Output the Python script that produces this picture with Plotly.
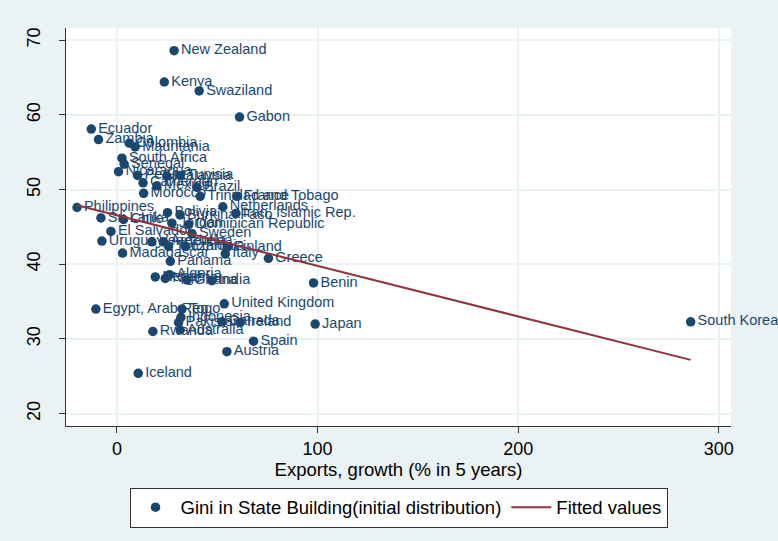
import plotly.graph_objects as go

# Gini coefficient (initial distribution) against 5-year export growth
countries = [
    "New Zealand", "Kenya", "Swaziland", "Gabon", "Ecuador", "Zambia",
    "Colombia", "Mauritania", "South Africa", "Senegal", "Nicaragua", "Peru",
    "Malaysia", "Tunisia", "Cameroon", "Mexico", "Morocco", "Brazil",
    "Trinidad and Tobago", "France", "Netherlands", "Iran, Islamic Rep.",
    "Philippines", "Sri Lanka", "Chile", "Bolivia", "Burkina Faso", "Jordan",
    "Dominican Republic", "Sweden", "El Salvador", "Uruguay", "Venezuela",
    "Argentina", "Tanzania", "Ethiopia", "Finland", "Italy", "Madagascar",
    "Greece", "Panama", "Nepal", "Nigeria", "Algeria", "Ghana", "India",
    "Benin", "Egypt, Arab Rep.", "United Kingdom", "Togo", "Indonesia",
    "Pakistan", "Australia", "Canada", "Ireland", "Rwanda", "Japan",
    "South Korea", "Spain", "Austria", "Iceland",
]
export_growth = [
    28.5, 23.6, 41.0, 61.1, -12.8, -9.2,
    6.1, 9.1, 2.5, 3.6, 0.8, 10.3,
    24.9, 31.5, 13.0, 19.9, 13.3, 39.9,
    41.5, 59.8, 52.8, 59.3,
    -19.9, -8.0, 3.3, 25.2, 31.5, 27.4,
    35.7, 37.4, -3.0, -7.5, 17.4,
    23.2, 25.7, 34.0, 55.0, 54.0, 2.8,
    75.5, 26.6, 19.1, 24.1, 26.2, 34.9, 47.3,
    98.0, -10.5, 53.5, 32.4, 31.9,
    30.7, 31.5, 52.3, 61.4, 17.9, 98.8,
    286.0, 68.1, 54.8, 10.6,
]
gini = [
    68.6, 64.4, 63.2, 59.7, 58.1, 56.7,
    56.2, 55.7, 54.2, 53.4, 52.4, 51.9,
    51.8, 51.9, 50.9, 50.5, 49.5, 50.3,
    49.1, 49.1, 47.7, 46.8,
    47.6, 46.2, 46.0, 46.9, 46.6, 45.5,
    45.3, 44.1, 44.4, 43.1, 43.0,
    43.0, 42.4, 42.4, 42.3, 41.4, 41.5,
    40.8, 40.4, 38.3, 38.1, 38.6, 37.9, 37.8,
    37.5, 34.0, 34.7, 34.0, 32.9,
    32.2, 31.2, 32.3, 32.2, 31.0, 32.0,
    32.3, 29.7, 28.3, 25.4,
]

# Linear fit, evaluated at the smallest and largest export growth
fit_x = [-19.9, 286.0]
fit_y = [47.9, 27.2]

x_ticks = [0, 100, 200, 300]
y_ticks = [20, 30, 40, 50, 60, 70]

navy = "#1a476f"
maroon = "#90353b"
bg = "#eaf2f3"
font_family = "Liberation Sans, Arial, sans-serif"

fig = go.Figure()

fig.add_trace(go.Scatter(
    x=export_growth, y=gini, text=countries,
    mode="markers+text",
    textposition="middle right",
    textfont=dict(color=navy, size=14.5, family=font_family),
    marker=dict(color=navy, size=9.5, line=dict(width=0)),
    name="Gini in State Building(initial distribution)",
    cliponaxis=False,
    hoverinfo="x+y+text",
))

fig.add_trace(go.Scatter(
    x=fit_x, y=fit_y, mode="lines",
    line=dict(color=maroon, width=2),
    name="Fitted values",
))

axis_common = dict(
    showline=True, linecolor="#333333", linewidth=1,
    ticks="outside", ticklen=6, tickcolor="#333333", tickwidth=1,
    showgrid=True, gridcolor=bg, gridwidth=1.5,
    zeroline=False, mirror=False,
    tickfont=dict(size=18, color="black", family=font_family),
)

fig.update_layout(
    width=778, height=541,
    margin=dict(l=66, r=47, t=28, b=115),
    paper_bgcolor=bg, plot_bgcolor="white",
    font=dict(family=font_family, color="black"),
    xaxis=dict(
        range=[-25.4, 306.1], tickvals=x_ticks,
        title=dict(text="Exports, growth (% in 5 years)",
                   font=dict(size=18.5, color="black"), standoff=4),
        **axis_common,
    ),
    yaxis=dict(
        range=[18.35, 71.63], tickvals=y_ticks, tickangle=-90,
        ticklabelstandoff=12,
        **axis_common,
    ),
    legend=dict(
        orientation="h", x=0.5, xanchor="center", y=-0.155, yanchor="top",
        bgcolor="white", bordercolor="#333333", borderwidth=1,
        font=dict(size=18.5, color="black", family=font_family),
        itemwidth=40,
    ),
    showlegend=True,
)

fig.write_html("out.html")
